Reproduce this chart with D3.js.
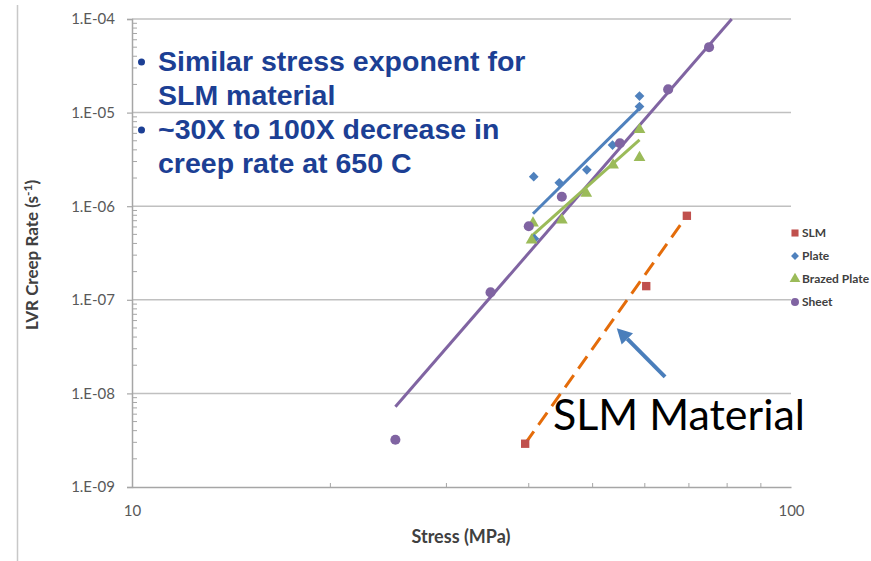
<!DOCTYPE html>
<html>
<head>
<meta charset="utf-8">
<script src="https://cdn.jsdelivr.net/npm/d3@7"></script>
<style>
  body { margin: 0; background: #fff; }
  svg { display: block; }
</style>
</head>
<body>
<svg id="chart"></svg>
<script>
'use strict';

// series (stress in MPa, creep rate in 1/s)
var slmStress = [39.5, 60.3, 69.5];
var slmRate = [2.9e-9, 1.4e-7, 7.9e-7];

var plateStress = [40.7, 40.8, 44.5, 49.0, 53.6, 58.9, 58.9];
var plateRate = [2.07e-6, 4.5e-7, 1.78e-6, 2.45e-6, 4.5e-6, 1.5e-5, 1.16e-5];

var brazedStress = [40.4, 40.6, 44.9, 48.9, 53.7, 58.9, 58.9];
var brazedRate = [4.35e-7, 6.6e-7, 7.1e-7, 1.37e-6, 2.75e-6, 6.6e-6, 3.3e-6];

var sheetStress = [25.1, 35.0, 40.0, 44.9, 55.0, 65.1, 75.1];
var sheetRate = [3.2e-9, 1.2e-7, 6.1e-7, 1.26e-6, 4.7e-6, 1.77e-5, 5.0e-5];

// power-law trendlines (end points)
var plateFitStress = [40.6, 58.9], plateFitRate = [8.3e-7, 1.11e-5];
var brazedFitStress = [40.4, 58.9], brazedFitRate = [4.8e-7, 5.1e-6];
var sheetFitStress = [25.1, 81.3], sheetFitRate = [7.2e-9, 1e-4];
var slmFitStress = [39.5, 69.5], slmFitRate = [2.9e-9, 7.9e-7];

var yTicks = [1e-9, 1e-8, 1e-7, 1e-6, 1e-5, 1e-4];
var xTicks = [10, 100];
var legendNames = ['SLM', 'Plate', 'Brazed Plate', 'Sheet'];
var bullets = [
  ['Similar stress exponent for', 'SLM material'],
  ['~30X to 100X decrease in', 'creep rate at 650 C']
];

var width = 871, height = 561,
  plotLeft = 132, plotRight = 791, plotTop = 19, plotBottom = 487,
  gridColor = '#c0c0c0',
  axisColor = '#a6a6a6',
  labelColor = '#595959',
  colors = {SLM: '#c0504d', Plate: '#4f81bd', 'Brazed Plate': '#9bbb59', Sheet: '#8064a2'},
  symbolTypes = {SLM: d3.symbolSquare, Plate: d3.symbolDiamond2,
    'Brazed Plate': d3.symbolTriangle, Sheet: d3.symbolCircle};

var svg = d3.select('#chart').attr('width', width).attr('height', height);

var x = d3.scaleLog().domain([10, 100]).range([plotLeft, plotRight]);
var y = d3.scaleLog().domain([1e-9, 1e-4]).range([plotBottom, plotTop]);

function zip(a, b) {
  return a.map(function (v, i) { return [v, b[i]]; });
}

// frame line on the far left
svg.append('line')
  .attr('x1', 17.5).attr('x2', 17.5).attr('y1', 5).attr('y2', height)
  .attr('stroke', '#c8c8c8').attr('stroke-width', 1.5);

// horizontal gridlines
svg.append('g').selectAll('line').data(yTicks.slice(1)).join('line')
  .attr('x1', plotLeft).attr('x2', plotRight)
  .attr('y1', function (d) { return y(d); }).attr('y2', function (d) { return y(d); })
  .attr('stroke', gridColor).attr('stroke-width', 1.5);

// y axis
var yAxis = svg.append('g').attr('transform', 'translate(' + plotLeft + ',0)')
  .call(d3.axisLeft(y).tickValues(yTicks).tickSize(5).tickPadding(12)
    .tickFormat(function (d) { return '1.E-0' + Math.round(-Math.log10(d)); }));
yAxis.select('.domain').attr('stroke', axisColor).attr('stroke-width', 1.5);
yAxis.selectAll('.tick line').attr('stroke', axisColor).attr('stroke-width', 1.2);
yAxis.selectAll('text').attr('fill', labelColor)
  .style('font-family', 'Lato, "Open Sans", sans-serif').style('font-size', '15px');

var yMinor = y.ticks().filter(function (d) { return yTicks.indexOf(d) < 0; });
svg.append('g').selectAll('line').data(yMinor).join('line')
  .attr('x1', plotLeft).attr('x2', plotLeft + 5)
  .attr('y1', function (d) { return y(d); }).attr('y2', function (d) { return y(d); })
  .attr('stroke', axisColor).attr('stroke-width', 1);

// x axis
var xAxis = svg.append('g').attr('transform', 'translate(0,' + plotBottom + ')')
  .call(d3.axisBottom(x).tickValues(xTicks).tickSize(0).tickPadding(18)
    .tickFormat(d3.format('d')));
xAxis.select('.domain').attr('stroke', axisColor).attr('stroke-width', 1.5);
xAxis.selectAll('text').attr('fill', labelColor)
  .style('font-family', 'Lato, "Open Sans", sans-serif').style('font-size', '15px');

var xMinor = x.ticks().filter(function (d) { return xTicks.indexOf(d) < 0; });
svg.append('g').selectAll('line').data(xMinor).join('line')
  .attr('x1', function (d) { return x(d); }).attr('x2', function (d) { return x(d); })
  .attr('y1', plotBottom).attr('y2', plotBottom - 4)
  .attr('stroke', axisColor).attr('stroke-width', 1);

// axis titles
svg.append('text')
  .attr('x', 461).attr('y', 543).attr('text-anchor', 'middle')
  .attr('fill', '#404040').style('font-family', 'Lato, sans-serif')
  .style('font-size', '18px').style('font-weight', 'bold')
  .text('Stress (MPa)');

var yTitle = svg.append('text')
  .attr('transform', 'translate(38,255) rotate(-90)').attr('text-anchor', 'middle')
  .attr('fill', '#404040').style('font-family', 'Lato, sans-serif')
  .style('font-size', '17px').style('font-weight', 'bold');
yTitle.append('tspan').text('LVR Creep Rate (s');
yTitle.append('tspan').attr('dy', -6).style('font-size', '12px').text('-1');
yTitle.append('tspan').attr('dy', 6).text(')');

// trendlines
var line = d3.line()
  .x(function (d) { return x(d[0]); })
  .y(function (d) { return y(d[1]); });

var fits = [
  {data: zip(sheetFitStress, sheetFitRate), color: colors.Sheet, dash: null},
  {data: zip(brazedFitStress, brazedFitRate), color: colors['Brazed Plate'], dash: null},
  {data: zip(plateFitStress, plateFitRate), color: colors.Plate, dash: null},
  {data: zip(slmFitStress, slmFitRate), color: '#e46c0a', dash: '15,8'}
];
svg.append('g').selectAll('path').data(fits).join('path')
  .attr('d', function (d) { return line(d.data); })
  .attr('fill', 'none')
  .attr('stroke', function (d) { return d.color; })
  .attr('stroke-width', 3)
  .attr('stroke-dasharray', function (d) { return d.dash; });

// markers
var markerSize = {SLM: 70, Plate: 60, 'Brazed Plate': 60, Sheet: 80};

var series = [
  {name: 'SLM', data: zip(slmStress, slmRate)},
  {name: 'Plate', data: zip(plateStress, plateRate)},
  {name: 'Brazed Plate', data: zip(brazedStress, brazedRate)},
  {name: 'Sheet', data: zip(sheetStress, sheetRate)}
];

series.forEach(function (s) {
  svg.append('g').selectAll('path').data(s.data).join('path')
    .attr('transform', function (d) { return 'translate(' + x(d[0]) + ',' + y(d[1]) + ')'; })
    .attr('d', d3.symbol().type(symbolTypes[s.name]).size(markerSize[s.name])())
    .attr('fill', colors[s.name]);
});

// legend
var legend = svg.append('g').selectAll('g').data(legendNames).join('g')
  .attr('transform', function (d, i) { return 'translate(795,' + (233 + i * 23) + ')'; });
legend.append('path')
  .attr('d', function (d) {
    return d3.symbol().type(symbolTypes[d]).size(d === 'Plate' ? 40 : 50)();
  })
  .attr('fill', function (d) { return colors[d]; });
legend.append('text')
  .attr('x', 7).attr('dy', '0.35em')
  .attr('fill', '#404040').style('font-family', 'Lato, sans-serif')
  .style('font-size', '12px').style('font-weight', 'bold')
  .text(function (d) { return d; });

// bullet notes
var notes = svg.append('g')
  .style('font-family', '"Liberation Sans", Arial, sans-serif')
  .style('font-weight', 'bold').style('font-size', '28.5px')
  .attr('fill', '#1c3f94');
bullets.forEach(function (b, i) {
  var base = 71 + i * 68;
  notes.append('circle').attr('cx', 141.5).attr('cy', base - 9).attr('r', 3.5);
  b.forEach(function (t, j) {
    notes.append('text').attr('x', 158).attr('y', base + j * 34).text(t);
  });
});

// annotation
svg.append('text')
  .attr('x', 553).attr('y', 430)
  .attr('fill', '#000').style('font-family', 'Lato, sans-serif')
  .style('font-size', '42px')
  .attr('textLength', 252).attr('lengthAdjust', 'spacingAndGlyphs')
  .text('SLM Material');

var arrowTail = [64.4, 1.5e-8], arrowTip = [54.4, 4.96e-8];
var tx = x(arrowTail[0]), ty = y(arrowTail[1]), hx = x(arrowTip[0]), hy = y(arrowTip[1]);
var ang = Math.atan2(hy - ty, hx - tx), headLen = 15, headW = 8;
var bx = hx - headLen * Math.cos(ang), by = hy - headLen * Math.sin(ang);
svg.append('line')
  .attr('x1', tx).attr('y1', ty).attr('x2', bx).attr('y2', by)
  .attr('stroke', '#4a7ebb').attr('stroke-width', 4);
svg.append('path')
  .attr('d', 'M' + hx + ',' + hy +
    'L' + (bx + headW * Math.sin(ang)) + ',' + (by - headW * Math.cos(ang)) +
    'L' + (bx - headW * Math.sin(ang)) + ',' + (by + headW * Math.cos(ang)) + 'Z')
  .attr('fill', '#4a7ebb');
</script>
</body>
</html>
